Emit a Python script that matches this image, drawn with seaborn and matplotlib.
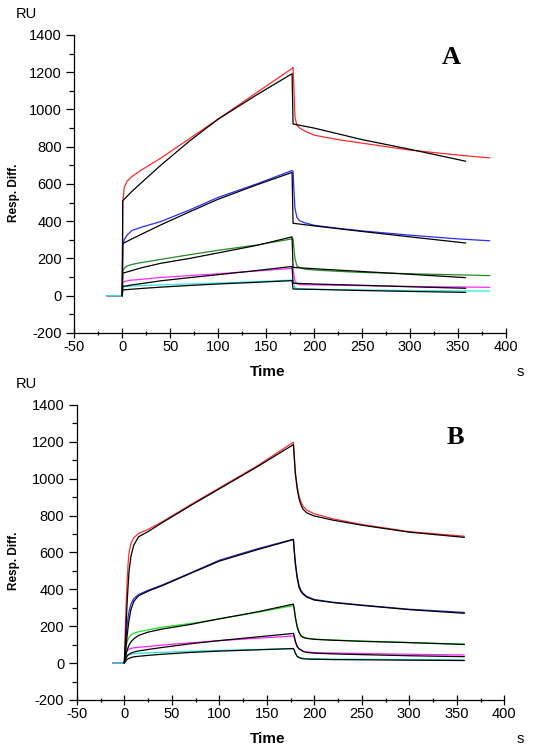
import numpy as np
import pandas as pd
import matplotlib
matplotlib.use("Agg")
import matplotlib.pyplot as plt
from matplotlib.ticker import MultipleLocator
import seaborn as sns

# ---------------- data ----------------
# Panel A - measured curves
tA_meas = [-16, 0, 0.5, 2, 5, 10, 20, 40, 70, 100, 140, 177, 178, 179, 180, 182, 185, 190, 200, 225, 250, 300, 350, 383]
A_red     = [0, 0, 500, 580, 615, 640, 675, 738, 843, 949, 1090, 1220, 1225, 1100, 960, 915, 900, 885, 862, 838, 819, 782, 755, 740]
A_blue    = [0, 0, 270, 300, 325, 350, 368, 398, 460, 528, 600, 672, 668, 560, 470, 420, 402, 392, 378, 362, 348, 325, 305, 295]
A_green   = [0, 0, 130, 147, 160, 168, 178, 195, 220, 244, 272, 305, 305, 250, 200, 160, 150, 143, 138, 131, 125, 118, 112, 108]
A_magenta = [0, 0, 70, 76, 80, 84, 88, 98, 108, 118, 133, 147, 148, 110, 80, 64, 60, 59, 58, 56, 54, 50, 47, 45]
A_cyan    = [0, 0, 45, 48, 50, 52, 54, 58, 63, 68, 76, 84, 82, 60, 42, 38, 37, 36, 35, 33, 31, 28, 26, 25]

# Panel A - fitted curves (black)
tA_fit = [0, 0.5, 10, 20, 40, 70, 100, 140, 177, 178, 200, 250, 300, 358]
A_fit1 = [0, 510, 560, 607, 700, 830, 948, 1078, 1192, 922, 900, 838, 786, 722]
A_fit2 = [0, 280, 305, 330, 380, 450, 518, 595, 662, 389, 375, 345, 316, 283]
A_fit3 = [0, 121, 135, 150, 174, 200, 230, 270, 316, 152, 145, 130, 115, 97]
A_fit4 = [0, 50, 58, 65, 80, 97, 113, 135, 157, 67, 63, 56, 48, 40]
A_fit5 = [0, 31, 35, 39, 46, 55, 63, 72, 81, 36, 34, 28, 23, 18]

# Panel B - measured curves
tB_meas = [-12, 0, 1, 2, 3, 4, 5, 7, 10, 15, 25, 40, 70, 100, 140, 178, 179, 180, 182, 184, 186, 188, 192, 200, 220, 250, 300, 358]
B_red     = [0, 0, 180, 330, 450, 540, 600, 650, 680, 703, 725, 767, 860, 950, 1070, 1198, 1120, 1040, 960, 905, 875, 852, 830, 810, 782, 752, 713, 688]
B_blue    = [0, 0, 80, 150, 205, 250, 280, 320, 350, 372, 395, 424, 490, 558, 620, 672, 610, 550, 470, 420, 395, 380, 362, 345, 330, 315, 292, 275]
B_green   = [0, 0, 50, 90, 115, 130, 140, 152, 162, 170, 180, 195, 215, 240, 275, 312, 290, 250, 200, 170, 150, 142, 136, 130, 125, 120, 112, 103]
B_magenta = [0, 0, 30, 55, 68, 72, 76, 80, 83, 86, 90, 98, 110, 122, 135, 147, 135, 115, 88, 76, 70, 65, 61, 57, 55, 52, 48, 44]
B_cyan    = [0, 0, 20, 35, 42, 45, 47, 49, 51, 53, 55, 58, 64, 69, 74, 78, 70, 55, 38, 32, 28, 26, 25, 24, 22, 21, 19, 17]

# Panel B - fitted curves (black)
tB_fit = [0, 1, 2, 3, 4, 5, 7, 10, 15, 25, 40, 70, 100, 140, 178, 179, 180, 182, 184, 186, 188, 192, 200, 220, 250, 300, 358]
B_fit1 = [0, 100, 220, 330, 420, 500, 580, 640, 685, 713, 762, 855, 945, 1065, 1185, 1110, 1030, 945, 890, 858, 836, 815, 798, 775, 748, 710, 682]
B_fit2 = [0, 50, 100, 150, 195, 235, 290, 335, 365, 390, 420, 487, 553, 615, 670, 600, 540, 460, 410, 388, 375, 358, 342, 328, 313, 290, 270]
B_fit3 = [0, 25, 50, 70, 85, 98, 115, 132, 150, 168, 185, 210, 240, 278, 320, 290, 250, 195, 165, 148, 140, 134, 129, 124, 118, 111, 101]
B_fit4 = [0, 15, 28, 38, 44, 48, 54, 60, 66, 74, 85, 105, 122, 142, 161, 145, 120, 90, 78, 72, 64, 58, 54, 50, 46, 40, 35]
B_fit5 = [0, 8, 15, 20, 23, 26, 30, 34, 37, 42, 48, 58, 65, 72, 79, 70, 55, 36, 30, 26, 24, 22, 21, 19, 18, 16, 14]

x_ticks = [-50, 0, 50, 100, 150, 200, 250, 300, 350, 400]
y_ticks = [-200, 0, 200, 400, 600, 800, 1000, 1200, 1400]

colorsA = ["#ff2a2a", "#2b2bff", "#238b23", "#ff2aff", "#2ae8e8"]
colorsB = ["#ff3030", "#2b2bd8", "#22dd22", "#ff20ff", "#20e0e0"]

# ---------------- figure ----------------
sns.set_style("ticks")
plt.rcParams["font.family"] = ["Liberation Sans", "DejaVu Sans"]
plt.rcParams["axes.unicode_minus"] = False

fig = plt.figure(figsize=(5.33, 7.53), dpi=100)
axA = fig.add_axes([0.1394, 0.5578, 0.810, 0.3958])
axB = fig.add_axes([0.1441, 0.0704, 0.802, 0.3918])


def draw(ax, t_meas, meas, t_fit, fits, colors):
    for vals, c in zip(meas, colors):
        sns.lineplot(x=t_meas, y=vals, ax=ax, color=c, lw=0.9, sort=False, estimator=None)
    for vals in fits:
        sns.lineplot(x=t_fit, y=vals, ax=ax, color="black", lw=0.9, sort=False, estimator=None)


draw(axA, tA_meas, [A_red, A_blue, A_green, A_magenta, A_cyan], tA_fit,
     [A_fit1, A_fit2, A_fit3, A_fit4, A_fit5], colorsA)
draw(axB, tB_meas, [B_red, B_blue, B_green, B_magenta, B_cyan], tB_fit,
     [B_fit1, B_fit2, B_fit3, B_fit4, B_fit5], colorsB)

for ax in (axA, axB):
    ax.set_xlim(-50, 400)
    ax.set_ylim(-200, 1400)
    ax.set_xticks(x_ticks)
    ax.set_yticks(y_ticks)
    ax.xaxis.set_minor_locator(MultipleLocator(25))
    ax.yaxis.set_minor_locator(MultipleLocator(100))
    sns.despine(ax=ax)
    for s in ("left", "bottom"):
        ax.spines[s].set_linewidth(0.9)
        ax.spines[s].set_color("black")
    ax.tick_params(axis="x", which="major", direction="inout", length=6.5, width=0.9,
                   labelsize=10.5, pad=1.5, color="black", labelcolor="black")
    ax.tick_params(axis="x", which="minor", direction="inout", length=3.4, width=0.9, color="black")
    ax.tick_params(axis="y", which="major", direction="out", length=6, width=0.9,
                   labelsize=10.5, pad=3, color="black", labelcolor="black")
    ax.tick_params(axis="y", which="minor", direction="out", length=3.5, width=0.9, color="black")
    ax.set_xlabel("")
    ax.set_ylabel("")

# annotations (pixel positions -> figure fractions)
W, H = 533, 753


def ftext(x, y, s, **kw):
    fig.text(x / W, 1 - y / H, s, color="black", **kw)


ftext(26, 14, "RU", fontsize=10.5, ha="center", va="center")
ftext(26, 384, "RU", fontsize=10.5, ha="center", va="center")
ftext(13.5, 193, "Resp. Diff.", fontsize=8.5, fontweight="bold", rotation=90, ha="center", va="center")
ftext(13.5, 561, "Resp. Diff.", fontsize=8.5, fontweight="bold", rotation=90, ha="center", va="center")
ftext(268, 372, "Time", fontsize=11, fontweight="bold", ha="center", va="center")
ftext(268, 739, "Time", fontsize=11, fontweight="bold", ha="center", va="center")
ftext(520, 372, "s", fontsize=10.5, ha="center", va="center")
ftext(520, 739, "s", fontsize=10.5, ha="center", va="center")
ftext(451, 57, "A", fontsize=19, fontweight="bold", family=["Liberation Serif", "DejaVu Serif"], ha="center", va="center")
ftext(455, 437, "B", fontsize=19, fontweight="bold", family=["Liberation Serif", "DejaVu Serif"], ha="center", va="center")

fig.savefig("out.png", dpi=100)
